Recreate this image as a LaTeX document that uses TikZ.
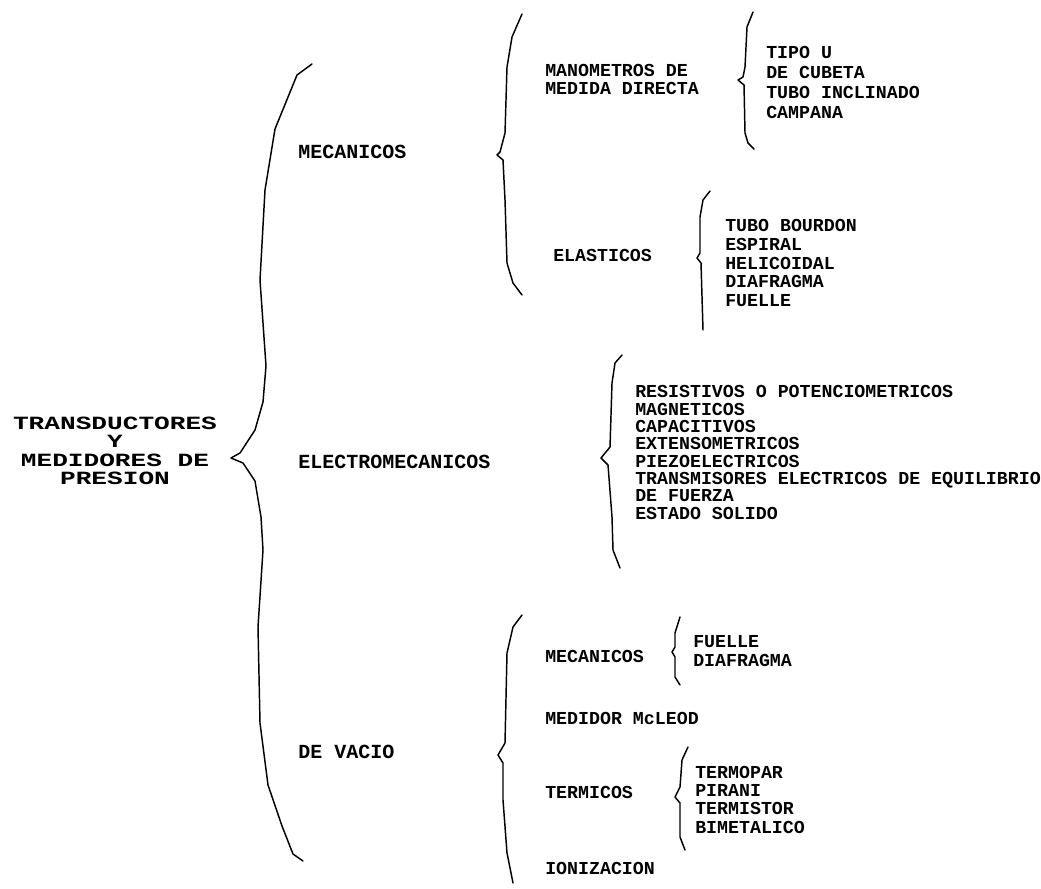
\documentclass[tikz,border=0pt]{standalone}
\usepackage{fontspec}
\setmainfont{Liberation Mono}
\newfontfamily\titlefont{Liberation Mono}[FakeStretch=1.4]
\usetikzlibrary{positioning}

\tikzset{
  brace/.style={line width=1.1pt, line join=round, line cap=round},
  lvlone/.style={font=\bfseries\fontsize{15}{15}\selectfont, anchor=west, inner sep=0pt},
  lvltwo/.style={font=\bfseries\fontsize{13.7}{13.5}\selectfont, align=left, anchor=west, inner sep=0pt},
  itemlist/.style={font=\bfseries\fontsize{13.7}{#1}\selectfont, align=left, anchor=west, inner sep=0pt},
  itemlist/.default=13.8pt
}

\begin{document}
\begin{tikzpicture}[x=0.75pt, y=-0.75pt]

% Frame of the page
\useasboundingbox (0,0) rectangle (1041,888);

% Title
\node[font=\titlefont\bfseries\fontsize{14}{13.9}\selectfont, align=center, inner sep=0pt] (title) at (115,451)
  {TRANSDUCTORES\\Y\\MEDIDORES DE\\PRESION};

% ========== Main brace ==========
\draw[brace] (312,64) -- (297,75) -- (275,129) -- (265,190) -- (260,280) -- (266,366)
  -- (263,402) -- (255,430) -- (240,453) -- (231,458) -- (243,463) -- (255,481)
  -- (261,517) -- (263,550) -- (258,627) -- (260,723) -- (268,785) -- (282,826)
  -- (293,854) -- (303,861);

\node[lvlone] (mec) at (298,152) {MECANICOS};
\node[lvlone] (elec) at (298,462) {ELECTROMECANICOS};
\node[lvlone] (vac) at (298,752) {DE VACIO};

% ========== Mecanicos ==========
\draw[brace] (522,14) -- (512,37) -- (507,67) -- (505,133) -- (500,152) -- (497,155)
  -- (503,160) -- (505,200) -- (507,263) -- (513,283) -- (522,295);

\node[lvltwo] (mano) at (545,79) {MANOMETROS DE\\MEDIDA DIRECTA};
\node[lvltwo] (elas) at (553,255) {ELASTICOS};

% Manometros de medida directa
\draw[brace] (753,12) -- (747,27) -- (745,67) -- (743,77) -- (738,80) -- (744,85)
  -- (745,133) -- (748,143) -- (754,149);
\node[itemlist=15pt] (manolist) at (766,82.5)
  {TIPO U\\DE CUBETA\\TUBO INCLINADO\\CAMPANA};

% Elasticos
\draw[brace] (710,191) -- (703,200) -- (700,217) -- (700,253) -- (697,258) -- (701,263)
  -- (703,330);
\node[itemlist=13.9pt] (elaslist) at (725,263)
  {TUBO BOURDON\\ESPIRAL\\HELICOIDAL\\DIAFRAGMA\\FUELLE};

% ========== Electromecanicos ==========
\draw[brace] (622,355) -- (615,363) -- (612,383) -- (610,447) -- (601,458) -- (608,465)
  -- (612,517) -- (613,550) -- (620,568);
\node[itemlist=13pt] (eleclist) at (635,452.5)
  {RESISTIVOS O POTENCIOMETRICOS\\MAGNETICOS\\CAPACITIVOS\\EXTENSOMETRICOS\\%
   PIEZOELECTRICOS\\TRANSMISORES ELECTRICOS DE EQUILIBRIO\\DE FUERZA\\ESTADO SOLIDO};

% ========== De vacio ==========
\draw[brace] (522,615) -- (513,627) -- (507,653) -- (505,743) -- (498,755) -- (503,763)
  -- (503,800) -- (507,853) -- (513,883);

\node[lvltwo] (vmec) at (545,656) {MECANICOS};
\node[lvltwo] (mcleod) at (545,718) {MEDIDOR McLEOD};
\node[lvltwo] (term) at (545,792) {TERMICOS};
\node[lvltwo] (ioni) at (545,868) {IONIZACION};

% Mecanicos (vacio)
\draw[brace] (680,617) -- (675,633) -- (675,647) -- (672,652) -- (675,657) -- (675,677)
  -- (680,685);
\node[itemlist=14.25pt] (vmeclist) at (693,651.5) {FUELLE\\DIAFRAGMA};

% Termicos
\draw[brace] (688,747) -- (682,760) -- (680,787) -- (675,797) -- (680,803) -- (680,837)
  -- (685,850);
\node[itemlist=13.75pt] (termlist) at (695,799.5)
  {TERMOPAR\\PIRANI\\TERMISTOR\\BIMETALICO};

\end{tikzpicture}
\end{document}
